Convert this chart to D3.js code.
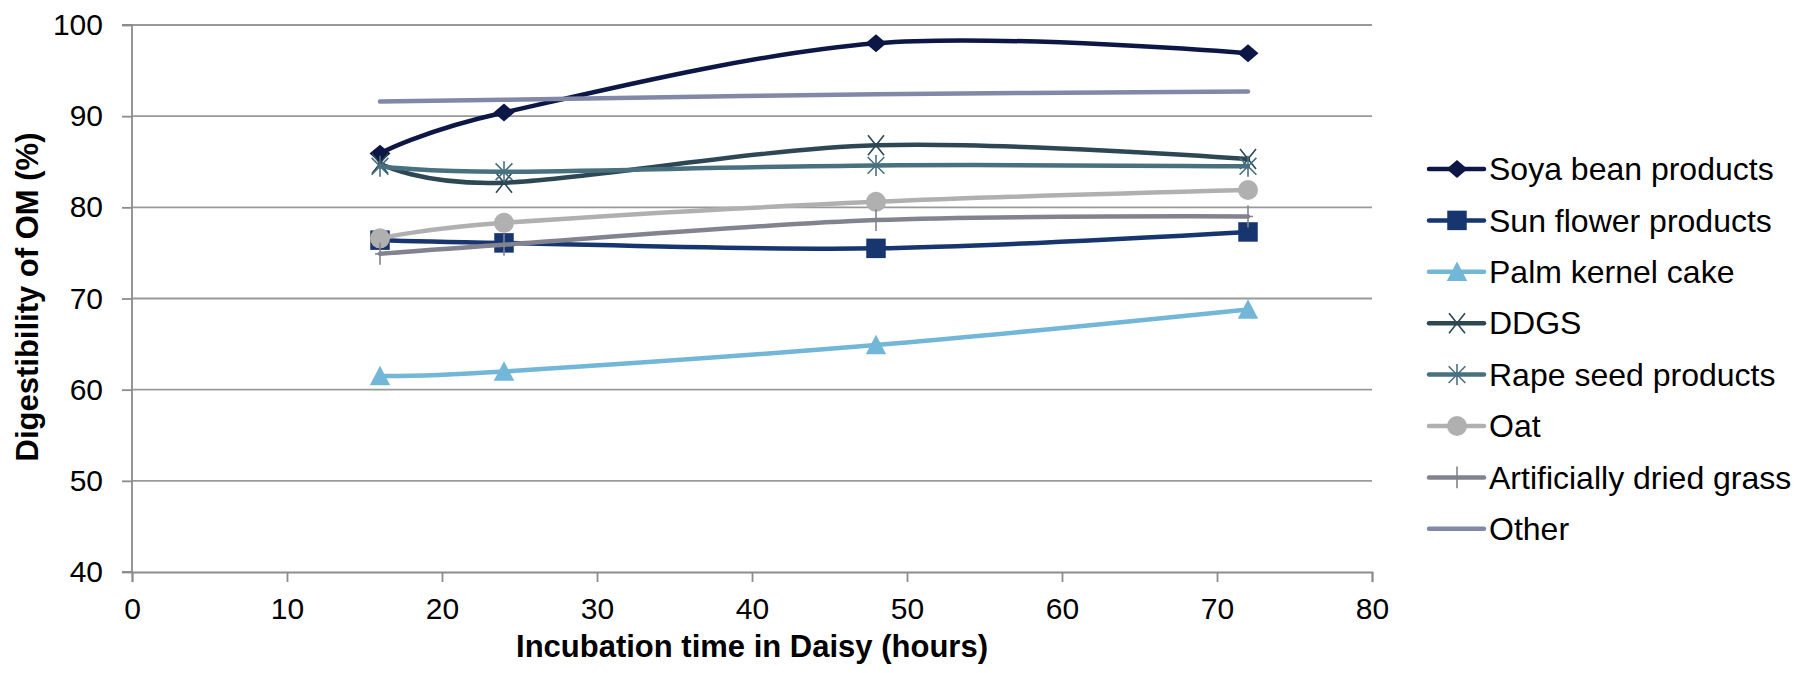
<!DOCTYPE html>
<html>
<head>
<meta charset="utf-8">
<script src="https://cdn.jsdelivr.net/npm/d3@7"></script>
<style>
  body { margin: 0; background: #fff; }
  text { font-family: "Liberation Sans", Arial, sans-serif; }
</style>
</head>
<body>
<svg id="chart" width="1794" height="673"></svg>
<script>
// incubation hours
const hours = [16, 24, 48, 72];

const seriesNames = ["Soya bean products", "Sun flower products", "Palm kernel cake", "DDGS",
    "Rape seed products", "Oat", "Artificially dried grass", "Other"];

const soya = [85.9, 90.4, 98.0, 96.9];
const sunflower = [76.4, 76.1, 75.5, 77.3];
const palm = [61.5, 62.0, 64.9, 68.8];
const ddgs = [84.8, 82.7, 86.8, 85.3];
const rape = [84.5, 83.9, 84.6, 84.5];
const oat = [76.6, 78.3, 80.6, 81.9];
const driedGrass = [74.9, 75.9, 78.6, 79.0];
const other = [91.6, 91.8, 92.4, 92.7];

const xTicks = [0, 10, 20, 30, 40, 50, 60, 70, 80];
const yTicks = [40, 50, 60, 70, 80, 90, 100];

const seriesValues = [soya, sunflower, palm, ddgs, rape, oat, driedGrass, other];
const colors = ["#0d1746", "#17366f", "#72b6d8", "#2d4854", "#48707f", "#b0b0b0", "#83838f", "#8288a8"];
const markers = ["diamond", "square", "triangle", "times", "asterisk", "circle", "plus", "none"];

let svg = d3.select("#chart"),
    margin = {top: 25, right: 422, bottom: 101, left: 132},
    width = +svg.attr("width") - margin.left - margin.right,
    height = +svg.attr("height") - margin.top - margin.bottom,
    g = svg.append("g").attr("transform", "translate(" + margin.left + "," + margin.top + ")");

let x = d3.scaleLinear().domain([0, 80]).range([0, width]);
let y = d3.scaleLinear().domain([40, 100]).range([height, 0]);

// gridlines
g.append("g")
    .selectAll("line")
    .data(yTicks.filter(function (d) { return d > 40; }))
    .enter().append("line")
    .attr("x1", 0).attr("x2", width)
    .attr("y1", function (d) { return y(d); })
    .attr("y2", function (d) { return y(d); })
    .attr("stroke", "#999").attr("stroke-width", 1.8);

let yAxis = g.append("g")
    .call(d3.axisLeft(y).tickValues(yTicks).tickSize(10).tickPadding(19));
let xAxis = g.append("g")
    .attr("transform", "translate(0," + height + ")")
    .call(d3.axisBottom(x).tickValues(xTicks).tickSize(10).tickPadding(16));

[yAxis, xAxis].forEach(function (ax) {
    ax.select(".domain").attr("stroke", "#8c8c8c").attr("stroke-width", 1.8);
    ax.selectAll(".tick line").attr("stroke", "#8c8c8c").attr("stroke-width", 1.8);
    ax.selectAll(".tick text").attr("font-size", 30).attr("fill", "#000")
        .attr("font-family", "Liberation Sans, Arial, sans-serif");
});
yAxis.select(".domain").attr("d", "M-10," + height + "H0V0H-10");

// custom marker shapes
const symbolTypes = {
    diamond: {draw: function (c, s) { const r = Math.sqrt(s) / 2; c.moveTo(0, -r * 0.85); c.lineTo(r, 0); c.lineTo(0, r * 0.85); c.lineTo(-r, 0); c.closePath(); }},
    square: {draw: function (c, s) { const r = Math.sqrt(s) / 2; c.rect(-r, -r, 2 * r, 2 * r); }},
    triangle: {draw: function (c, s) { const r = Math.sqrt(s) / 2; c.moveTo(0, -r); c.lineTo(r, r * 0.9); c.lineTo(-r, r * 0.9); c.closePath(); }},
    circle: {draw: function (c, s) { const r = Math.sqrt(s) / 2; c.moveTo(r, 0); c.arc(0, 0, r, 0, 2 * Math.PI); }},
    times: {draw: function (c, s) { const r = Math.sqrt(s) / 2; c.moveTo(-r * 0.8, -r); c.lineTo(r * 0.8, r); c.moveTo(r * 0.8, -r); c.lineTo(-r * 0.8, r); }},
    asterisk: {draw: function (c, s) { const r = Math.sqrt(s) / 2; c.moveTo(-r * 0.8, -r * 0.8); c.lineTo(r * 0.8, r * 0.8); c.moveTo(r * 0.8, -r * 0.8); c.lineTo(-r * 0.8, r * 0.8); c.moveTo(0, -r); c.lineTo(0, r); }},
    plus: {draw: function (c, s) { const r = Math.sqrt(s) / 2; c.moveTo(0, -r); c.lineTo(0, r); c.moveTo(-r * 0.45, 0); c.lineTo(r * 0.45, 0); }}
};
const markerSize = {diamond: 440, square: 380, triangle: 420, circle: 400, times: 400, asterisk: 440, plus: 480};
const filled = {diamond: true, square: true, triangle: true, circle: true};

function drawMarker(sel, kind, color) {
    if (kind === "none") return;
    sel.append("path")
        .attr("d", d3.symbol().type(symbolTypes[kind]).size(markerSize[kind])())
        .attr("fill", filled[kind] ? color : "none")
        .attr("stroke", filled[kind] ? "none" : color)
        .attr("stroke-width", 1.6);
}

let line = d3.line()
    .x(function (d) { return x(d[0]); })
    .y(function (d) { return y(d[1]); })
    .curve(d3.curveCardinal.tension(0));

for (let i = 0; i < seriesValues.length; i++) {
    let pts = hours.map(function (h, j) { return [h, seriesValues[i][j]]; });
    let sg = g.append("g");
    sg.append("path")
        .attr("d", line(pts))
        .attr("fill", "none")
        .attr("stroke", colors[i])
        .attr("stroke-width", 4.5)
        .attr("stroke-linecap", "round");
    pts.forEach(function (p) {
        let m = sg.append("g").attr("transform", "translate(" + x(p[0]) + "," + y(p[1]) + ")");
        drawMarker(m, markers[i], colors[i]);
    });
}

// legend
let legend = svg.append("g").attr("transform", "translate(1429,169)");
seriesNames.forEach(function (name, i) {
    let row = legend.append("g").attr("transform", "translate(0," + (i * 51.4) + ")");
    row.append("line").attr("x1", 0).attr("x2", 55)
        .attr("stroke", colors[i]).attr("stroke-width", 4.5).attr("stroke-linecap", "round");
    let m = row.append("g").attr("transform", "translate(28,0)");
    drawMarker(m, markers[i], colors[i]);
    row.append("text").attr("x", 60).attr("dy", "0.35em")
        .attr("font-size", 32).attr("fill", "#000").text(name);
});

// axis titles
svg.append("text")
    .attr("x", margin.left + width / 2).attr("y", 657)
    .attr("text-anchor", "middle").attr("font-size", 31).attr("font-weight", "bold")
    .text("Incubation time in Daisy (hours)");

svg.append("text")
    .attr("transform", "translate(38,297) rotate(-90)")
    .attr("text-anchor", "middle").attr("font-size", 31).attr("font-weight", "bold")
    .text("Digestibility of OM (%)");
</script>
</body>
</html>
